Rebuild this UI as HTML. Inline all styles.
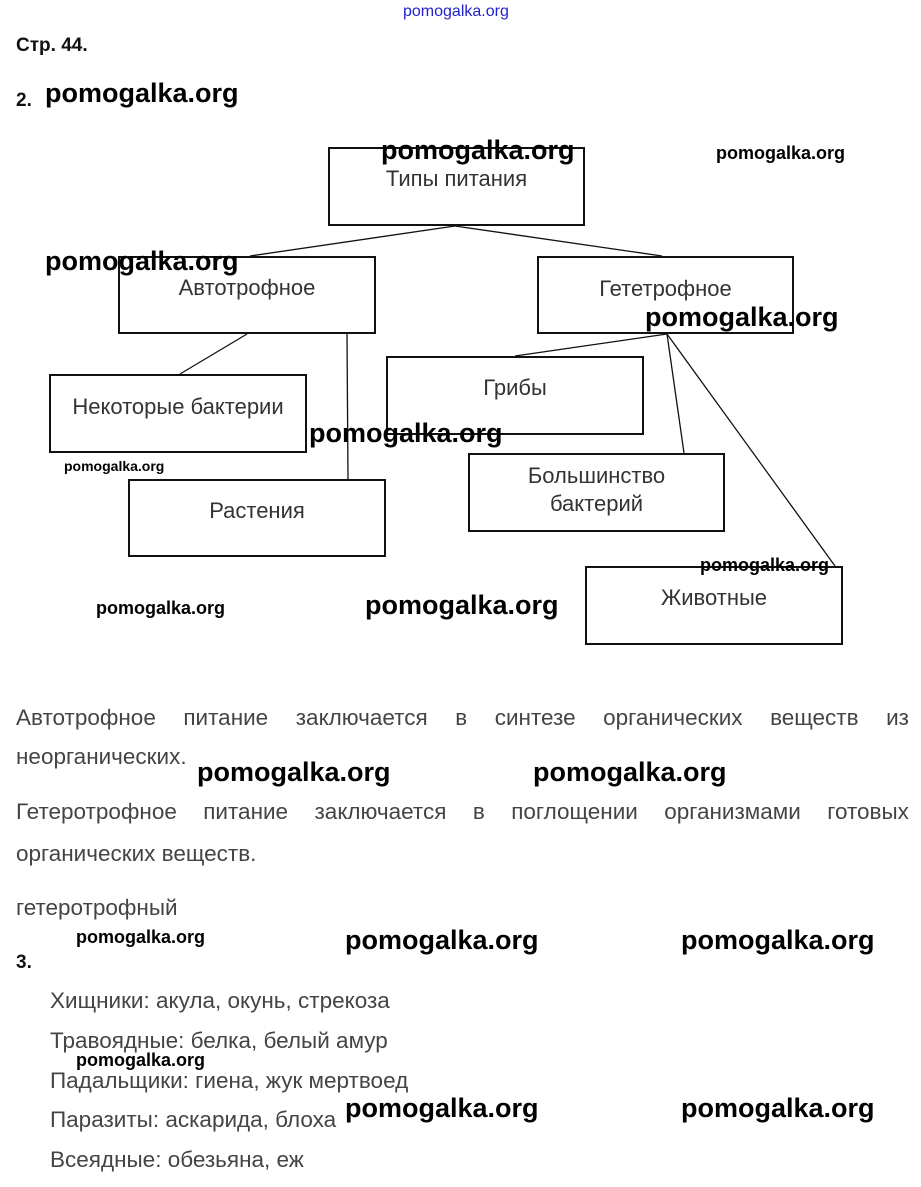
<!DOCTYPE html>
<html><head><meta charset="utf-8"><style>
body{margin:0;width:921px;height:1187px;background:#fff;position:relative;overflow:hidden;font-family:"Liberation Sans",sans-serif;}
.a{position:absolute;white-space:nowrap}
.b{position:absolute;border:2px solid #111;box-sizing:border-box;color:#333;font-size:22px;text-align:center;white-space:nowrap}
.wm{position:absolute;font-weight:bold;font-size:27px;color:#000;white-space:nowrap}
.ws{position:absolute;font-weight:bold;font-size:18px;color:#000;white-space:nowrap}
.t{position:absolute;color:#444;font-size:22.5px;white-space:nowrap}
</style></head><body>
<div class="a" style="left:403px;top:3px;font-size:16px;color:#22c;">pomogalka.org</div>
<div class="a" style="left:16px;top:35px;font-size:19px;font-weight:bold;color:#111">Стр. 44.</div>
<div class="a" style="left:16px;top:90px;font-size:19px;font-weight:bold;color:#111">2.</div>
<div class="wm" style="left:45px;top:78px">pomogalka.org</div>

<svg class="a" style="left:0;top:0" width="921" height="700">
<g stroke="#111" stroke-width="1.3" fill="none">
<line x1="455" y1="226" x2="250" y2="256"/><line x1="455" y1="226" x2="662" y2="256"/>
<line x1="247" y1="334" x2="180" y2="374"/><line x1="347" y1="334" x2="348" y2="479"/>
<line x1="667" y1="334" x2="515" y2="356"/><line x1="667" y1="334" x2="684" y2="453"/>
<line x1="667" y1="334" x2="835" y2="566"/>
</g></svg>

<div class="b" style="left:328px;top:147px;width:257px;height:79px;padding-top:17px">Типы питания</div>
<div class="b" style="left:118px;top:256px;width:258px;height:78px;padding-top:17px">Автотрофное</div>
<div class="b" style="left:537px;top:256px;width:257px;height:78px;padding-top:18px">Гететрофное</div>
<div class="b" style="left:49px;top:374px;width:258px;height:79px;padding-top:18px">Некоторые бактерии</div>
<div class="b" style="left:128px;top:479px;width:258px;height:78px;padding-top:17px">Растения</div>
<div class="b" style="left:386px;top:356px;width:258px;height:79px;padding-top:17px">Грибы</div>
<div class="b" style="left:468px;top:453px;width:257px;height:79px;padding-top:7px;line-height:28px">Большинство<br>бактерий</div>
<div class="b" style="left:585px;top:566px;width:258px;height:79px;padding-top:17px">Животные</div>

<div class="wm" style="left:381px;top:135px">pomogalka.org</div>
<div class="ws" style="left:716px;top:143px">pomogalka.org</div>
<div class="wm" style="left:45px;top:246px">pomogalka.org</div>
<div class="wm" style="left:645px;top:302px">pomogalka.org</div>
<div class="wm" style="left:309px;top:418px">pomogalka.org</div>
<div class="ws" style="left:64px;top:458px;font-size:14px">pomogalka.org</div>
<div class="ws" style="left:700px;top:555px">pomogalka.org</div>
<div class="ws" style="left:96px;top:598px">pomogalka.org</div>
<div class="wm" style="left:365px;top:590px">pomogalka.org</div>

<div class="t" style="left:16px;top:705px;width:893px;display:flex;justify-content:space-between"><span>Автотрофное</span><span>питание</span><span>заключается</span><span>в</span><span>синтезе</span><span>органических</span><span>веществ</span><span>из</span></div>
<div class="t" style="left:16px;top:744px">неорганических.</div>
<div class="wm" style="left:197px;top:757px">pomogalka.org</div>
<div class="wm" style="left:533px;top:757px">pomogalka.org</div>
<div class="t" style="left:16px;top:799px;width:893px;display:flex;justify-content:space-between"><span>Гетеротрофное</span><span>питание</span><span>заключается</span><span>в</span><span>поглощении</span><span>организмами</span><span>готовых</span></div>
<div class="t" style="left:16px;top:841px">органических веществ.</div>
<div class="t" style="left:16px;top:895px">гетеротрофный</div>
<div class="ws" style="left:76px;top:927px">pomogalka.org</div>
<div class="wm" style="left:345px;top:925px">pomogalka.org</div>
<div class="wm" style="left:681px;top:925px">pomogalka.org</div>
<div class="a" style="left:16px;top:952px;font-size:19px;font-weight:bold;color:#111">3.</div>
<div class="t" style="left:50px;top:988px">Хищники: акула, окунь, стрекоза</div>
<div class="t" style="left:50px;top:1028px">Травоядные: белка, белый амур</div>
<div class="ws" style="left:76px;top:1050px">pomogalka.org</div>
<div class="t" style="left:50px;top:1068px">Падальщики: гиена, жук мертвоед</div>
<div class="t" style="left:50px;top:1107px">Паразиты: аскарида, блоха</div>
<div class="wm" style="left:345px;top:1093px">pomogalka.org</div>
<div class="wm" style="left:681px;top:1093px">pomogalka.org</div>
<div class="t" style="left:50px;top:1147px">Всеядные: обезьяна, еж</div>
</body></html>
